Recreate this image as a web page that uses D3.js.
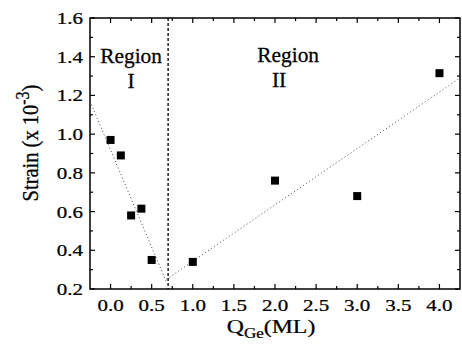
<!DOCTYPE html>
<html><head><meta charset="utf-8">
<script src="https://cdn.jsdelivr.net/npm/d3@7"></script>
<style>body{margin:0;background:#fff}svg{display:block}</style>
</head><body>
<svg id="c" width="462" height="349" font-family="'Liberation Serif', 'DejaVu Serif', 'Times New Roman', serif"></svg>
<script>
// data
const qGe = [0.0, 0.125, 0.25, 0.375, 0.5, 1.0, 2.0, 3.0, 4.0];
const strain = [0.97, 0.89, 0.58, 0.615, 0.35, 0.34, 0.76, 0.68, 1.315];
const fitLeftX = [-0.25, 0.68], fitLeftY = [1.17, 0.235];
const fitRightX = [0.68, 4.25], fitRightY = [0.25, 1.29];
const boundaryX = 0.7;
const xTickVals = [0.0, 0.5, 1.0, 1.5, 2.0, 2.5, 3.0, 3.5, 4.0];
const xTickLabels = ["0.0","0.5","1.0","1.5","2.0","2.5","3.0","3.5","4.0"];
const yTickVals = [0.2, 0.4, 0.6, 0.8, 1.0, 1.2, 1.4, 1.6];
const yTickLabels = ["0.2","0.4","0.6","0.8","1.0","1.2","1.4","1.6"];
const regions = [
  {name:"Region", num:"I", x:0.25, numX:0.25, y:1.37, numY:1.24},
  {name:"Region", num:"II", x:2.16, numX:2.05, y:1.375, numY:1.245}
];

const FONT = "'Liberation Serif', 'DejaVu Serif', 'Times New Roman', serif";
const svg = d3.select("#c");
const L=90, R=460, T=18, B=289;
const x = d3.scaleLinear().domain([-0.25, 4.25]).range([L, R]);
const y = d3.scaleLinear().domain([0.2, 1.6]).range([B, T]);
const SX = 1.2;

// frame
svg.append("rect").attr("x",L).attr("y",T).attr("width",R-L).attr("height",B-T)
  .attr("fill","none").attr("stroke","#000").attr("stroke-width",1.5);

// ticks
const xMinor = d3.range(-0.25, 4.26, 0.25).filter(v => !xTickVals.some(t => Math.abs(t-v)<1e-6) && v> -0.2 && v<4.2);
const yMinor = d3.range(0.3, 1.6, 0.2);
const tg = svg.append("g").attr("stroke","#000").attr("stroke-width",1.2);
xTickVals.forEach(v => {
  tg.append("line").attr("x1",x(v)).attr("x2",x(v)).attr("y1",B).attr("y2",B-5);
  tg.append("line").attr("x1",x(v)).attr("x2",x(v)).attr("y1",T).attr("y2",T+5);
});
xMinor.forEach(v => {
  tg.append("line").attr("x1",x(v)).attr("x2",x(v)).attr("y1",B).attr("y2",B-3);
  tg.append("line").attr("x1",x(v)).attr("x2",x(v)).attr("y1",T).attr("y2",T+3);
});
yTickVals.forEach(v => {
  tg.append("line").attr("x1",L).attr("x2",L+5).attr("y1",y(v)).attr("y2",y(v));
  tg.append("line").attr("x1",R).attr("x2",R-5).attr("y1",y(v)).attr("y2",y(v));
});
yMinor.forEach(v => {
  tg.append("line").attr("x1",L).attr("x2",L+3).attr("y1",y(v)).attr("y2",y(v));
  tg.append("line").attr("x1",R).attr("x2",R-3).attr("y1",y(v)).attr("y2",y(v));
});

function txt(sel){ return sel.append("text").attr("font-family",FONT).attr("fill","#000")
  .attr("stroke","#000").attr("stroke-width",0.25); }

// tick labels
xTickVals.forEach((v,i) => {
  txt(svg).attr("transform",`translate(${x(v)},${B+22}) scale(${SX},1)`)
    .attr("text-anchor","middle").attr("font-size",17.5).text(xTickLabels[i]);
});
yTickVals.forEach((v,i) => {
  txt(svg).attr("transform",`translate(83,${y(v)+6}) scale(${SX},1)`)
    .attr("text-anchor","end").attr("font-size",17.5).text(yTickLabels[i]);
});

// boundary line
svg.append("line").attr("x1",x(boundaryX)).attr("x2",x(boundaryX)).attr("y1",T).attr("y2",B)
  .attr("stroke","#000").attr("stroke-width",1.3).attr("stroke-dasharray","3,2");

// fits
const line = d3.line().x(d=>x(d[0])).y(d=>y(d[1]));
[[fitLeftX,fitLeftY],[fitRightX,fitRightY]].forEach(([fx,fy]) => {
  svg.append("path").attr("d", line(fx.map((v,i)=>[v,fy[i]])))
    .attr("fill","none").attr("stroke","#444").attr("stroke-width",1).attr("stroke-dasharray","1,2.6");
});

// points
svg.append("g").selectAll("rect").data(qGe.map((v,i)=>[v,strain[i]])).join("rect")
  .attr("x",d=>x(d[0])-4).attr("y",d=>y(d[1])-4).attr("width",8).attr("height",8).attr("fill","#000");

// region labels
regions.forEach(r => {
  txt(svg).attr("transform",`translate(${x(r.x)},${y(r.y)}) scale(1.07,1)`)
    .attr("text-anchor","middle").attr("font-size",20).text(r.name);
  txt(svg).attr("transform",`translate(${x(r.numX)},${y(r.numY)}) scale(1.07,1)`)
    .attr("text-anchor","middle").attr("font-size",20).text(r.num);
});

// axis titles
const xt = txt(svg).attr("transform",`translate(271,333) scale(1.22,1)`)
  .attr("text-anchor","middle").attr("font-size",19.5);
xt.append("tspan").text("Q");
xt.append("tspan").attr("font-size",14).attr("dy",5).text("Ge");
xt.append("tspan").attr("dy",-5).text("(ML)");

const yt = txt(svg).attr("transform",`translate(38,143) scale(1.15,1) rotate(-90)`)
  .attr("text-anchor","middle").attr("font-size",20.5);
yt.append("tspan").text("Strain (x 10");
yt.append("tspan").attr("font-size",16).attr("dy",-8).text("-3");
yt.append("tspan").attr("dy",8).text(")");
</script>
</body></html>
